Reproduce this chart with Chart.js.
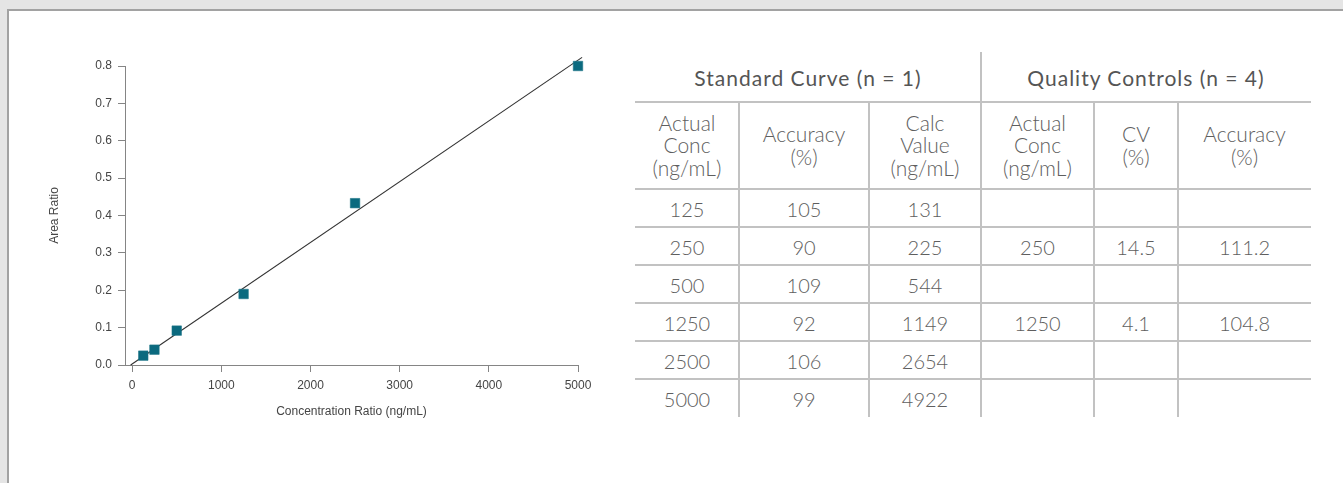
<!DOCTYPE html>
<html>
<head>
<meta charset="utf-8">
<script src="https://cdn.jsdelivr.net/npm/chart.js@4.4.1/dist/chart.umd.min.js"></script>
<style>
  html, body { margin: 0; padding: 0; }
  body { width: 1343px; height: 483px; background: #e5e5e5; position: relative; overflow: hidden; }
  #panel { position: absolute; left: 7px; top: 9px; right: 0; bottom: 0; background: #fff;
           border-left: 2px solid #a2a2a2; border-top: 2px solid #a2a2a2; }
  #plot { position: absolute; left: 0; top: 0; width: 620px; height: 483px; }
  .hl, .vl { position: absolute; background: #c2c2c2; }
  .cell { position: absolute; display: flex; align-items: center; justify-content: center;
          text-align: center; font-family: "Lato", "Open Sans", sans-serif; font-weight: 300;
          color: #5e5e5e; font-size: 21px; line-height: 22.5px; }
  .group { font-weight: 400; font-size: 21px; letter-spacing: 1px; color: #555; padding-top: 2px; box-sizing: border-box; }
  .num { font-size: 20px; padding-top: 3px; box-sizing: border-box; }
</style>
</head>
<body>
<div id="panel"></div>
<canvas id="plot" width="620" height="483"></canvas>
<div id="table"></div>
<script>
// Standard curve: nominal concentration vs measured area ratio
const concentration = [125, 250, 500, 1250, 2500, 5000];
const areaRatio = [0.025, 0.041, 0.092, 0.19, 0.433, 0.80];

// Fitted calibration line, end points
const fitX = [-17, 5046];
const fitY = [0.0, 0.823];

const xTickValues = [0, 1000, 2000, 3000, 4000, 5000];
const yTickValues = [0, 0.1, 0.2, 0.3, 0.4, 0.5, 0.6, 0.7, 0.8];

// Table values
const stdAccuracy = [105, 90, 109, 92, 106, 99];
const stdCalcValue = [131, 225, 544, 1149, 2654, 4922];
const qcConc = [250, 1250];
const qcCv = ['14.5', '4.1'];
const qcAccuracy = ['111.2', '104.8'];

const groupHeaders = ['Standard Curve (n = 1)', 'Quality Controls (n = 4)'];
const columnHeaders = [
  ['Actual', 'Conc', '(ng/mL)'],
  ['Accuracy', '(%)'],
  ['Calc', 'Value', '(ng/mL)'],
  ['Actual', 'Conc', '(ng/mL)'],
  ['CV', '(%)'],
  ['Accuracy', '(%)']
];

const axisFont = { family: '"Liberation Sans", Arial, sans-serif', size: 12 };
const axisColor = '#858585';
const textColor = '#454545';

new Chart(document.getElementById('plot'), {
  type: 'scatter',
  data: {
    datasets: [
      {
        data: concentration.map((c, i) => ({ x: c, y: areaRatio[i] })),
        pointStyle: 'rect',
        pointRadius: 6.7,
        pointHoverRadius: 6.7,
        backgroundColor: '#0b6a7f',
        borderColor: '#1f7688',
        borderWidth: 0.6,
        clip: false,
        order: 0
      },
      {
        data: fitX.map((x, i) => ({ x: x, y: fitY[i] })),
        showLine: true,
        borderColor: '#333333',
        borderWidth: 1.1,
        pointRadius: 0,
        pointHoverRadius: 0,
        clip: false,
        order: 1
      }
    ]
  },
  options: {
    responsive: false,
    animation: false,
    events: [],
    layout: { padding: { left: 40, top: 66, right: 42, bottom: 58 } },
    plugins: { legend: { display: false }, tooltip: { enabled: false } },
    scales: {
      x: {
        type: 'linear',
        min: -80,
        max: 5000,
        afterBuildTicks: s => { s.ticks = xTickValues.map(v => ({ value: v })); },
        afterFit: s => { s.height = 60; },
        grid: { drawOnChartArea: false, drawTicks: true, tickLength: 7, color: axisColor, lineWidth: 1 },
        border: { display: true, color: axisColor, width: 1 },
        ticks: { font: axisFont, color: textColor, padding: 6, maxRotation: 0, autoSkip: false,
                 callback: v => String(v) },
        title: { display: true, text: 'Concentration Ratio (ng/mL)', font: axisFont, color: textColor,
                 padding: { top: 0, bottom: 6 } }
      },
      y: {
        type: 'linear',
        min: 0,
        max: 0.8,
        afterBuildTicks: s => { s.ticks = yTickValues.map(v => ({ value: v })); },
        afterFit: s => { s.width = 85; },
        grid: { drawOnChartArea: false, drawTicks: true, tickLength: 7, color: axisColor, lineWidth: 1 },
        border: { display: true, color: axisColor, width: 1 },
        ticks: { font: axisFont, color: textColor, padding: 6, callback: v => Number(v).toFixed(1) },
        title: { display: true, text: 'Area Ratio', font: axisFont, color: textColor,
                 padding: { top: 7, bottom: 0 } }
      }
    }
  }
});

// Results table
const colEdges = [635, 739, 869, 981, 1094, 1178, 1311];
const rowEdges = [52, 102, 189, 227, 265, 303, 341, 379, 417];
const table = document.getElementById('table');

function addBox(cls, left, top, width, height, html) {
  const d = document.createElement('div');
  d.className = cls;
  d.style.left = left + 'px';
  d.style.top = top + 'px';
  d.style.width = width + 'px';
  d.style.height = height + 'px';
  if (html !== undefined) d.innerHTML = html;
  table.appendChild(d);
}

// rules
for (let r = 1; r < rowEdges.length - 1; r++) {
  addBox('hl', colEdges[0], rowEdges[r] - 1, colEdges[6] - colEdges[0], 2);
}
for (let c = 1; c < colEdges.length - 1; c++) {
  const top = c === 3 ? rowEdges[0] : rowEdges[1];
  addBox('vl', colEdges[c] - 1, top, 2, rowEdges[rowEdges.length - 1] - top);
}

// group headers
addBox('cell group', colEdges[0], rowEdges[0], colEdges[3] - colEdges[0], rowEdges[1] - rowEdges[0], groupHeaders[0]);
addBox('cell group', colEdges[3], rowEdges[0], colEdges[6] - colEdges[3], rowEdges[1] - rowEdges[0], groupHeaders[1]);

// column headers
columnHeaders.forEach((lines, c) => {
  addBox('cell', colEdges[c], rowEdges[1], colEdges[c + 1] - colEdges[c], rowEdges[2] - rowEdges[1], lines.join('<br>'));
});

// body rows
concentration.forEach((conc, i) => {
  const q = qcConc.indexOf(conc);
  const values = [conc, stdAccuracy[i], stdCalcValue[i],
                  q >= 0 ? qcConc[q] : '', q >= 0 ? qcCv[q] : '', q >= 0 ? qcAccuracy[q] : ''];
  values.forEach((v, c) => {
    addBox('cell num', colEdges[c], rowEdges[i + 2], colEdges[c + 1] - colEdges[c], rowEdges[i + 3] - rowEdges[i + 2], String(v));
  });
});
</script>
</body>
</html>
